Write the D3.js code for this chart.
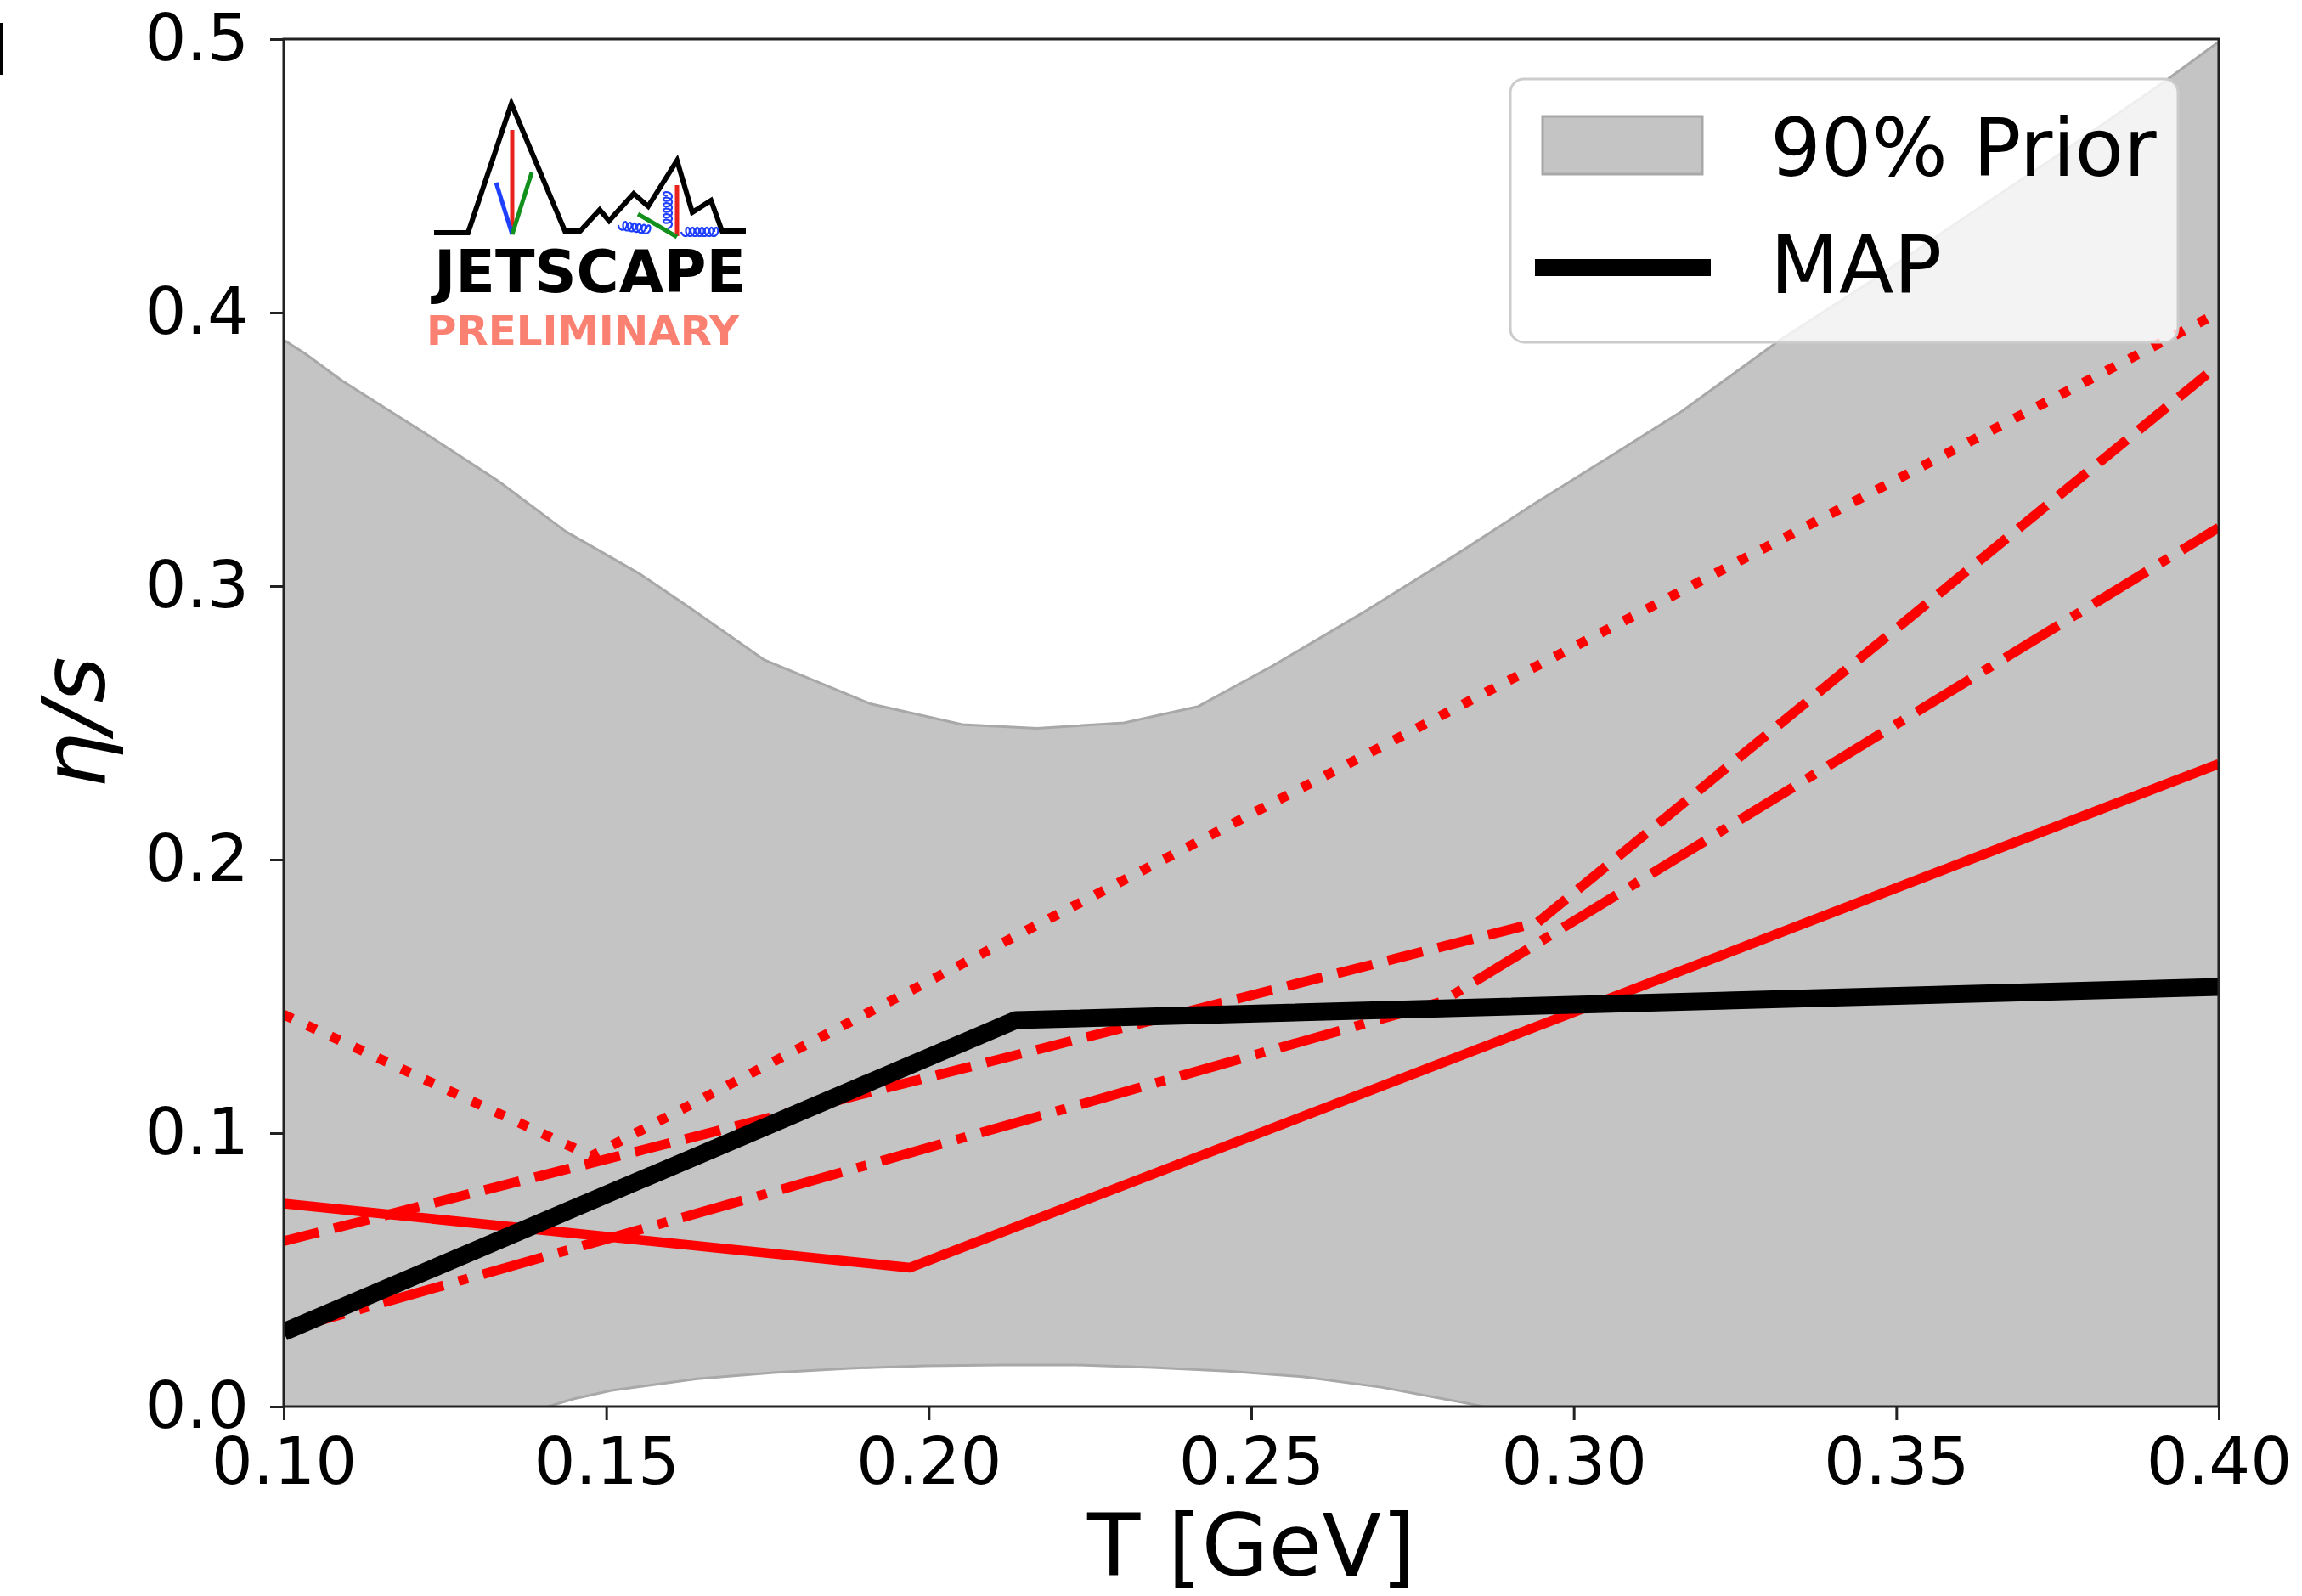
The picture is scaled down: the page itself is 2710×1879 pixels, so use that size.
<!DOCTYPE html>
<html>
<head>
<meta charset="utf-8">
<script src="https://cdn.jsdelivr.net/npm/d3@7"></script>
<style>
  html, body { margin: 0; padding: 0; background: #fff; }
  svg { display: block; font-family: "DejaVu Sans", sans-serif; }
</style>
</head>
<body>
<div id="chart"></div>
<script>
// axis ticks
const xTicks = [0.10, 0.15, 0.20, 0.25, 0.30, 0.35, 0.40];
const yTicks = [0.0, 0.1, 0.2, 0.3, 0.4, 0.5];

// 90% prior band, upper edge (T, eta/s)
const priorUpperT = [0.100, 0.1033, 0.1091, 0.1158, 0.1225, 0.1332, 0.1437, 0.1553, 0.1630, 0.1745,
  0.1822, 0.1909, 0.2052, 0.2168, 0.2303, 0.2418, 0.2533, 0.2669, 0.2821, 0.2937,
  0.3072, 0.3168, 0.3318, 0.3458, 0.3589, 0.3747, 0.3913, 0.400];
const priorUpperV = [0.390, 0.385, 0.375, 0.365, 0.355, 0.3385, 0.320, 0.3043, 0.292, 0.273,
  0.2655, 0.257, 0.2494, 0.248, 0.250, 0.256, 0.2708, 0.2897, 0.312, 0.3298,
  0.3497, 0.364, 0.3897, 0.411, 0.432, 0.457, 0.484, 0.499];
// lower edge (goes below zero at both ends, clipped by the axes)
const priorLowerT = [0.100, 0.120, 0.1410, 0.1449, 0.1508, 0.1641, 0.1759, 0.1877, 0.1994, 0.2112,
  0.2230, 0.2347, 0.2464, 0.2582, 0.2701, 0.2839, 0.2880, 0.310, 0.350, 0.400];
const priorLowerV = [-0.030, -0.016, 0.000, 0.0028, 0.0059, 0.0102, 0.0124, 0.0140, 0.0149, 0.0152,
  0.0152, 0.0143, 0.0130, 0.0109, 0.0071, 0.0010, -0.0010, -0.012, -0.030, -0.050];

// red prior samples
const solidT = [0.100, 0.1971, 0.400];
const solidV = [0.0742, 0.0508, 0.235];
const dashedT = [0.100, 0.2944, 0.400];
const dashedV = [0.0605, 0.1770, 0.381];
const dashDotT = [0.100, 0.2795, 0.400];
const dashDotV = [0.0277, 0.1480, 0.3214];
const dottedT = [0.100, 0.1477, 0.400];
const dottedV = [0.1433, 0.0916, 0.400];

// maximum a posteriori
const mapT = [0.100, 0.2135, 0.400];
const mapV = [0.0273, 0.1413, 0.1534];

const legendLabels = ["90% Prior", "MAP"];

// layout
const width = 2710, height = 1879;
const margin = { top: 46, right: 98, bottom: 223, left: 334 };
const innerW = width - margin.left - margin.right;
const innerH = height - margin.top - margin.bottom;

const svg = d3.select("#chart").append("svg")
  .attr("width", width)
  .attr("height", height)
  .attr("viewBox", `0 0 ${width} ${height}`);

const x = d3.scaleLinear().domain([0.1, 0.4]).range([0, innerW]);
const y = d3.scaleLinear().domain([0, 0.5]).range([innerH, 0]);

const g = svg.append("g").attr("transform", `translate(${margin.left},${margin.top})`);

g.append("clipPath").attr("id", "plotClip")
  .append("rect").attr("width", innerW).attr("height", innerH);

const plot = g.append("g").attr("clip-path", "url(#plotClip)");

// band
const band = priorUpperT.map((t, i) => ({ t, v: priorUpperV[i] }));
const lowerPts = priorLowerT.map((t, i) => ({ t, v: priorLowerV[i] }));
const bandPts = band.concat(lowerPts.slice().reverse());
plot.append("path")
  .datum(bandPts)
  .attr("fill", "#c4c4c4")
  .attr("stroke", "#a8a8a8")
  .attr("stroke-width", 3)
  .attr("stroke-linejoin", "round")
  .attr("d", d3.line().x(d => x(d.t)).y(d => y(d.v)).curve(d3.curveLinearClosed));

const line = d3.line().x(d => x(d.t)).y(d => y(d.v));
const toPts = (ts, vs) => ts.map((t, i) => ({ t, v: vs[i] }));

const redW = 11.5;
const redSeries = [
  { pts: toPts(solidT, solidV), dash: null },
  { pts: toPts(dashedT, dashedV), dash: [3.7, 1.6] },
  { pts: toPts(dashDotT, dashDotV), dash: [6.4, 1.6, 1, 1.6] },
  { pts: toPts(dottedT, dottedV), dash: [1, 1.65] },
];
plot.selectAll("path.red")
  .data(redSeries)
  .join("path")
  .attr("class", "red")
  .attr("fill", "none")
  .attr("stroke", "#ff0000")
  .attr("stroke-width", redW)
  .attr("stroke-linejoin", "round")
  .attr("stroke-dasharray", d => d.dash ? d.dash.map(v => v * redW).join(",") : null)
  .attr("d", d => line(d.pts));

plot.append("path")
  .datum(toPts(mapT, mapV))
  .attr("fill", "none")
  .attr("stroke", "#000")
  .attr("stroke-width", 21)
  .attr("stroke-linejoin", "round")
  .attr("d", line);

// axes
const xAxis = g.append("g")
  .attr("transform", `translate(0,${innerH})`)
  .call(d3.axisBottom(x).tickValues(xTicks).tickFormat(d3.format(".2f")).tickSize(16).tickPadding(20));
const yAxis = g.append("g")
  .call(d3.axisLeft(y).tickValues(yTicks).tickFormat(d3.format(".1f")).tickSize(16).tickPadding(25));
[xAxis, yAxis].forEach(a => {
  a.select(".domain").remove();
  a.selectAll(".tick line").attr("stroke", "#222").attr("stroke-width", 3);
  a.selectAll(".tick text")
    .attr("fill", "#000")
    .attr("font-family", "DejaVu Sans")
    .attr("font-size", 77);
});

g.append("rect")
  .attr("width", innerW)
  .attr("height", innerH)
  .attr("fill", "none")
  .attr("stroke", "#222")
  .attr("stroke-width", 3);

// axis titles
g.append("text")
  .attr("x", innerW / 2)
  .attr("y", innerH + 199)
  .attr("text-anchor", "middle")
  .attr("font-size", 102)
  .text("T [GeV]");
svg.append("text")
  .attr("transform", `translate(123,${margin.top + innerH / 2}) rotate(-90)`)
  .attr("text-anchor", "middle")
  .attr("font-size", 104)
  .attr("font-style", "italic")
  .text("η/s");

// clipped mark at the very left edge
svg.append("rect").attr("x", 0).attr("y", 27).attr("width", 3).attr("height", 61).attr("fill", "#000");

// legend
const legend = g.append("g").attr("transform", `translate(${1778 - margin.left},${93 - margin.top})`);
legend.append("rect")
  .attr("width", 786).attr("height", 310)
  .attr("rx", 16).attr("ry", 16)
  .attr("fill", "#fff").attr("fill-opacity", 0.8)
  .attr("stroke", "#cccccc").attr("stroke-width", 3);
legend.append("rect")
  .attr("x", 38).attr("y", 44).attr("width", 188).attr("height", 68)
  .attr("fill", "#c4c4c4").attr("stroke", "#a8a8a8").attr("stroke-width", 3);
legend.append("line")
  .attr("x1", 29).attr("x2", 236).attr("y1", 222).attr("y2", 222)
  .attr("stroke", "#000").attr("stroke-width", 20);
legend.selectAll("text.lab")
  .data(legendLabels)
  .join("text")
  .attr("class", "lab")
  .attr("x", 306)
  .attr("y", (d, i) => 114 + i * 138)
  .attr("font-size", 94)
  .text(d => d);

// JETSCAPE logo
const logo = svg.append("g").attr("transform", "translate(511,122)");
const mountain = [[0,152],[40,152],[91,0],[154,150],[172,150],[195,125],[206,138],[235,106],[252,121],
  [286,67],[304,128],[326,114],[339,150],[367,150]];
logo.append("path")
  .attr("d", d3.line()(mountain))
  .attr("fill", "none").attr("stroke", "#000").attr("stroke-width", 6).attr("stroke-linejoin", "miter");
const sticks = [
  { p: [[92,31],[92,154]], c: "#e8231d" },
  { p: [[73,93],[92,154]], c: "#1f3fff" },
  { p: [[115,81],[92,154]], c: "#11901c" },
  { p: [[286,96],[286,156]], c: "#e8231d" },
  { p: [[240,130],[286,157]], c: "#11901c" },
];
logo.selectAll("path.stick").data(sticks).join("path")
  .attr("class", "stick")
  .attr("d", d => d3.line()(d.p))
  .attr("fill", "none").attr("stroke", d => d.c).attr("stroke-width", 5);
function spring(a, b, n, r) {
  const dx = b[0] - a[0], dy = b[1] - a[1];
  const len = Math.hypot(dx, dy), ux = dx / len, uy = dy / len, px = -uy, py = ux;
  const pts = [];
  for (let i = 0; i <= n * 24; i++) {
    const t = i / (n * 24), ph = 2 * Math.PI * n * t;
    const s = t * len - r * 0.7 * Math.cos(ph) + r * 0.7;
    const o = r * Math.sin(ph);
    pts.push([a[0] + ux * s + px * o, a[1] + uy * s + py * o]);
  }
  return d3.line()(pts);
}
[[[217,143],[250,148],6,5], [[275,147],[275,108],6,5], [[291,151],[330,151],7,5]].forEach(s => {
  logo.append("path").attr("d", spring(s[0], s[1], s[2], s[3]))
    .attr("fill", "none").attr("stroke", "#1f3fff").attr("stroke-width", 2.2);
});
logo.append("text")
  .attr("x", 0).attr("y", 222)
  .attr("font-family", "DejaVu Sans Condensed, DejaVu Sans")
  .attr("font-weight", "bold")
  .attr("font-size", 70)
  .attr("textLength", 367).attr("lengthAdjust", "spacingAndGlyphs")
  .attr("fill", "#000")
  .text("JETSCAPE");
logo.append("text")
  .attr("x", -9).attr("y", 284)
  .attr("font-family", "Liberation Sans Narrow, DejaVu Sans Condensed, sans-serif")
  .attr("font-weight", "bold")
  .attr("font-size", 48)
  .attr("textLength", 368).attr("lengthAdjust", "spacingAndGlyphs")
  .attr("fill", "#fa8072")
  .text("PRELIMINARY");
</script>
</body>
</html>
